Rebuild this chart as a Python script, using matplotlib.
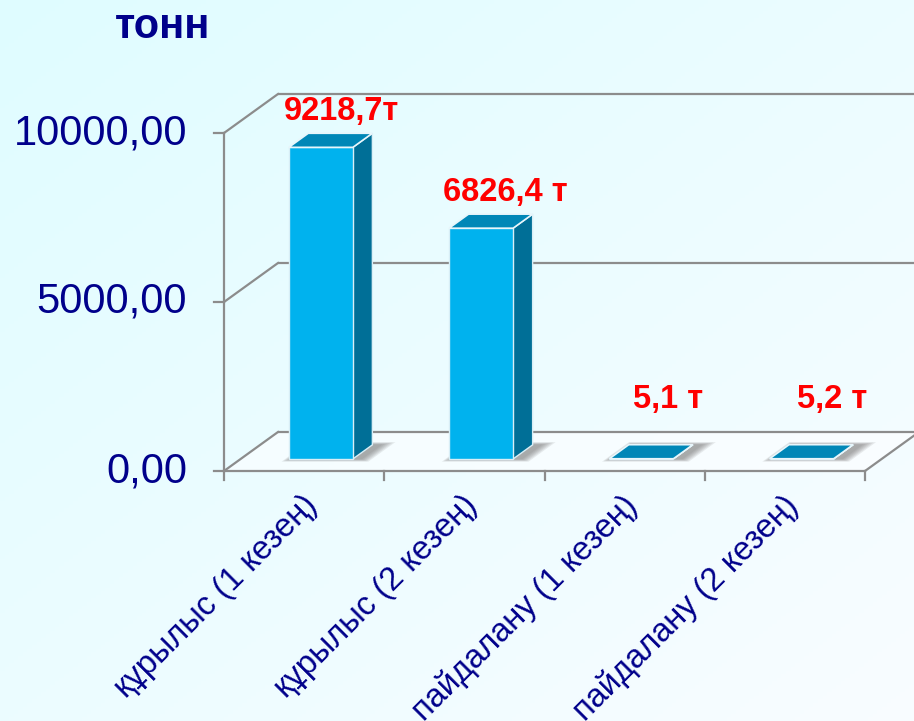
import numpy as np
import matplotlib
matplotlib.use("Agg")
import matplotlib.pyplot as plt
from matplotlib.patches import Polygon

plt.rcParams['font.family'] = ['Liberation Sans', 'DejaVu Sans']

# data
categories = ['құрылыс (1 кезең)', 'құрылыс (2 кезең)',
              'пайдалану (1 кезең)', 'пайдалану (2 кезең)']
values = [9218.7, 6826.4, 5.1, 5.2]
value_labels = ['9218,7т', '6826,4 т', '5,1 т', '5,2 т']
yticks = [0, 5000, 10000]
ytick_labels = ['0,00', '5000,00', '10000,00']
unit_label = 'тонн'

W, H = 914, 721
fig = plt.figure(figsize=(W / 100, H / 100), dpi=100)
ax = fig.add_axes([0, 0, 1, 1])

# pixel scales of the pseudo-3d box
sx = 160.25          # px per category
sy = 338 / 10000     # px per tonne
x0px, y0px = 224, 471
xlim = (-x0px / sx, (W - x0px) / sx)
ylim = (-(H - y0px) / sy, y0px / sy)
ax.set_xlim(*xlim)
ax.set_ylim(*ylim)
ax.axis('off')

DX = 54 / sx         # depth shift (full depth)
DY = 39 / sy

def P(x, y, d=0.0):
    return (x + d * DX, y + d * DY)

# background gradient
gx, gy = np.meshgrid(np.linspace(0, 1, 200), np.linspace(0, 1, 200))
t = np.clip((gx + gy) / 2, 0, 1)[..., None]
c_top = np.array([0.875, 0.99, 1.0])
c_bot = np.array([0.975, 0.99, 1.0])
bg = c_top * (1 - t) + c_bot * t
ax.imshow(bg, extent=(xlim[0], xlim[1], ylim[0], ylim[1]), origin='upper',
          aspect='auto', zorder=0)

n = len(categories)
grid_c = '#8c8c8c'
lw = 1.6

# floor
floor = [P(0, 0, 0), P(n, 0, 0), P(n, 0, 1), P(0, 0, 1)]
ax.add_patch(Polygon(floor, closed=True, facecolor='white', alpha=0.55,
                     edgecolor='none', zorder=1))

# back wall + left wall gridlines
for v in yticks:
    a, b = P(0, v, 1), P(n + 1, v, 1)
    ax.plot([a[0], b[0]], [a[1], b[1]], color=grid_c, lw=lw, zorder=2,
            solid_capstyle='butt')
    a, b = P(0, v, 0), P(0, v, 1)
    ax.plot([a[0], b[0]], [a[1], b[1]], color=grid_c, lw=lw, zorder=2)
# front floor edge and right slant
ax.plot([0, n], [0, 0], color=grid_c, lw=lw, zorder=2)
a, b = P(n, 0, 0), P(n, 0, 1)
ax.plot([a[0], b[0]], [a[1], b[1]], color=grid_c, lw=lw, zorder=2)
# value axis
ax.plot([0, 0], [0, yticks[-1]], color=grid_c, lw=lw, zorder=2)
for v, lab in zip(yticks, ytick_labels):
    ax.plot([-10 / sx, 0], [v, v], color=grid_c, lw=lw, zorder=2)
    ax.text(-37 / sx, v, lab, ha='right', va='center', fontsize=30,
            color='#00008b', zorder=5)
# category ticks
for i in range(n + 1):
    ax.plot([i, i], [0, -9 / sy], color=grid_c, lw=lw, zorder=2)

# bars
bw, d0, d1 = 0.4, 0.31, 0.67
c_front, c_side, c_top_f = '#00b2ee', '#006f97', '#0087b7'
for i, v in enumerate(values):
    xc = i + 0.5
    xa, xb = xc - bw / 2, xc + bw / 2
    # soft shadow on the floor
    for k, e in enumerate(np.linspace(0.07, 0.01, 6)):
        sh = [P(xa - e * 0.6 + 0.02, 0, d0 - e), P(xb + e + 0.05, 0, d0 - e),
              P(xb + e + 0.05, 0, d1 + e), P(xa - e * 0.6 + 0.02, 0, d1 + e)]
        ax.add_patch(Polygon(sh, closed=True, facecolor='#6e6e6e', alpha=0.13,
                             edgecolor='none', zorder=3))
    front = [P(xa, 0, d0), P(xb, 0, d0), P(xb, v, d0), P(xa, v, d0)]
    side = [P(xb, 0, d0), P(xb, 0, d1), P(xb, v, d1), P(xb, v, d0)]
    top = [P(xa, v, d0), P(xb, v, d0), P(xb, v, d1), P(xa, v, d1)]
    ax.add_patch(Polygon(side, closed=True, facecolor=c_side, edgecolor='#d8eef6',
                         lw=1.0, zorder=4))
    ax.add_patch(Polygon(front, closed=True, facecolor=c_front, edgecolor='#d8eef6',
                         lw=1.0, zorder=4))
    ax.add_patch(Polygon(top, closed=True, facecolor=c_top_f, edgecolor='#e8f6fb',
                         lw=1.2, zorder=4))
    # value label
    lx, ly = P(xc, max(v, 700), 0.7)
    ax.text(lx + 3 * i / sx, ly + 12 / sy, value_labels[i], ha='center',
            va='baseline', fontsize=23.5, fontweight='bold', color='#ff0000',
            zorder=6)

# category labels
for i, lab in enumerate(categories):
    ax.text(i + 0.5 - 3 / sx, -19 / sy, lab, rotation=45, rotation_mode='anchor',
            ha='right', va='top', fontsize=23.5, color='#00008b', zorder=5)

# unit label
ax.text(115 / sx + xlim[0], ylim[1] - 38 / sy, unit_label, ha='left',
        va='baseline', fontsize=30, fontweight='bold', color='#00008b', zorder=5)

fig.savefig('out.png', dpi=100)
